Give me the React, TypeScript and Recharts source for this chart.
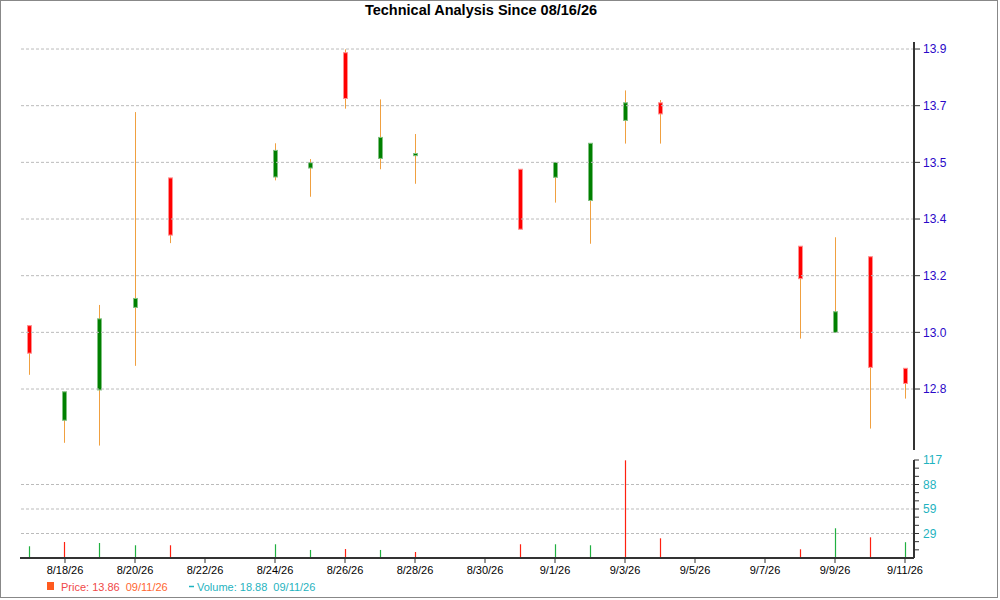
import { ComposedChart, Bar, XAxis, YAxis, ReferenceLine } from 'recharts';

// trading days, counted from 8/17/26
const tradeDays = [0, 1, 2, 3, 4, 7, 8, 9, 10, 11, 14, 15, 16, 17, 18, 22, 23, 24, 25];
const opens  = [13.005, 12.699, 12.797, 13.064, 13.483, 13.486, 13.515, 13.888, 13.546, 13.555, 13.511, 13.485, 13.410, 13.669, 13.726, 13.262, 12.983, 13.228, 12.867];
const highs  = [13.005, 12.791, 13.072, 13.696, 13.483, 13.595, 13.544, 13.899, 13.737, 13.625, 13.511, 13.533, 13.595, 13.766, 13.735, 13.262, 13.291, 13.228, 12.867];
const lows   = [12.846, 12.626, 12.617, 12.875, 13.272, 13.475, 13.422, 13.707, 13.511, 13.464, 13.317, 13.403, 13.270, 13.594, 13.594, 12.963, 12.983, 12.672, 12.769];
const closes = [12.916, 12.791, 13.027, 13.093, 13.298, 13.572, 13.532, 13.740, 13.614, 13.562, 13.317, 13.533, 13.595, 13.726, 13.690, 13.157, 13.050, 12.870, 12.818];
const volumes = [14.0, 19.1, 17.9, 15.2, 15.2, 16.4, 9.6, 10.7, 9.6, 7.2, 16.4, 16.4, 15.2, 116.6, 23.5, 10.4, 35.5, 24.7, 18.88];
const volumeUp = [true, false, true, true, false, true, true, false, true, false, false, true, true, false, false, false, true, false, true];

const dateTickDays = [1, 3, 5, 7, 9, 11, 13, 15, 17, 19, 21, 23, 25];
const dateTickLabels = ['8/18/26', '8/20/26', '8/22/26', '8/24/26', '8/26/26', '8/28/26', '8/30/26', '9/1/26', '9/3/26', '9/5/26', '9/7/26', '9/9/26', '9/11/26'];

const priceTicks = [12.8, 12.98333, 13.16667, 13.35, 13.53333, 13.71667, 13.9];
const priceTickLabels = ['12.8', '13.0', '13.2', '13.4', '13.5', '13.7', '13.9'];

const volTicks = [9.75, 19.5, 29.25, 39, 48.75, 58.5, 68.25, 78, 87.75, 97.5, 107.25, 117];
const volTickLabels = ['', '', '29', '', '', '59', '', '', '88', '', '', '117'];
const volGrid = [29.25, 58.5, 87.75];

const data = tradeDays.map((day, i) => ({
  day, open: opens[i], high: highs[i], low: lows[i], close: closes[i],
  vol: volumes[i], volUp: volumeUp[i],
}));

const FONT = '"Liberation Sans", Arial, sans-serif';
const X_DOMAIN: [number, number] = [-0.2857, 25.257];
const gridStyle = { stroke: '#bbb', strokeDasharray: '3 2', strokeWidth: 1 };

const Candle = (p: any) => {
  const { x, y, width, height, payload } = p;
  if (!payload || height == null) return null;
  const { open, close, high, low } = payload;
  const h = Math.abs(height);
  const top0 = Math.min(y, y + height);
  const k = h / (high - low);
  const yAt = (v: number) => top0 + (high - v) * k;
  const cx = Math.floor(x + width / 2) + 0.5;
  const up = close >= open;
  const bTop = yAt(Math.max(open, close));
  const bBot = yAt(Math.min(open, close));
  return (
    <g>
      <line x1={cx} x2={cx} y1={top0} y2={top0 + h} stroke="#f0a040" strokeWidth={1} />
      <rect x={cx - 2} y={bTop} width={4} height={Math.max(bBot - bTop, 1.5)}
        fill={up ? '#008000' : '#ff0000'} stroke={up ? '#80c080' : '#ff9090'} strokeWidth={1} />
    </g>
  );
};

const VolLine = (p: any) => {
  const { x, y, width, height, payload } = p;
  if (!payload) return null;
  const cx = Math.floor(x + width / 2) + 0.5;
  return <line x1={cx} x2={cx} y1={y} y2={y + height} stroke={payload.volUp ? '#20b040' : '#ff2010'} strokeWidth={1.2} />;
};

export default function App() {
  return (
    <div style={{ position: 'absolute', left: 0, top: 0, width: 1000, height: 600, background: '#fff', fontFamily: FONT }}>
      <div style={{ position: 'absolute', left: 0, top: 0, width: 996, height: 596, border: '1px solid #888' }} />

      <div style={{ position: 'absolute', left: 0, top: 0 }}>
        <ComposedChart width={1000} height={450} data={data} margin={{ top: 42, right: 0, left: 20, bottom: 0 }}>
          <XAxis type="number" dataKey="day" domain={X_DOMAIN} allowDataOverflow hide />
          <YAxis orientation="right" domain={[12.6027, 13.9227]} allowDataOverflow ticks={priceTicks} interval={0}
            tickFormatter={(_v: number, i: number) => priceTickLabels[i]} width={86}
            axisLine={{ stroke: '#333', strokeWidth: 2 }} tickLine={{ stroke: '#333' }} tickSize={6} tickMargin={3}
            tick={{ fill: '#2a08c8', fontSize: 12, fontFamily: FONT }} />
          {priceTicks.map(v => <ReferenceLine key={v} y={v} {...gridStyle} />)}
          <Bar dataKey={(d: any) => [d.low, d.high]} barSize={5} shape={Candle} isAnimationActive={false} />
        </ComposedChart>
      </div>

      <div style={{ position: 'absolute', left: 0, top: 450 }}>
        <ComposedChart width={1000} height={150} data={data} margin={{ top: 10, right: 0, left: 20, bottom: 0 }}>
          <XAxis type="number" dataKey="day" domain={X_DOMAIN} allowDataOverflow ticks={dateTickDays} interval={0}
            tickFormatter={(_v: number, i: number) => dateTickLabels[i]} height={42}
            axisLine={{ stroke: '#333', strokeWidth: 2 }} tickLine={{ stroke: '#333' }} tickSize={5} tickMargin={3}
            tick={{ fill: '#000', fontSize: 11, fontFamily: FONT }} />
          <YAxis orientation="right" domain={[0, 117]} allowDataOverflow ticks={volTicks} interval={0}
            tickFormatter={(_v: number, i: number) => volTickLabels[i]} width={86}
            axisLine={{ stroke: '#333', strokeWidth: 2 }} tickLine={{ stroke: '#333' }} tickSize={5} tickMargin={4}
            tick={{ fill: '#1fb3c0', fontSize: 12, fontFamily: FONT }} />
          {volGrid.map(v => <ReferenceLine key={v} y={v} {...gridStyle} />)}
          <Bar dataKey="vol" barSize={3} shape={VolLine} isAnimationActive={false} />
        </ComposedChart>
      </div>

      <svg width={1000} height={600} style={{ position: 'absolute', left: 0, top: 0, pointerEvents: 'none' }}>
        <text x={481} y={15} textAnchor="middle" fontSize={14.5} fontWeight="bold" fill="#000" fontFamily={FONT}>
          Technical Analysis Since 08/16/26
        </text>
        <rect x={47} y={582} width={7} height={8} fill="#ff5a1f" />
        <text x={61} y={591} fontSize={11} fontFamily={FONT}>
          <tspan fill="#f04848">Price: 13.86</tspan>
          <tspan fill="#ff6630" dx={6}>09/11/26</tspan>
        </text>
        <line x1={189} x2={194} y1={586.5} y2={586.5} stroke="#1fb3c0" strokeWidth={1.5} />
        <text x={197} y={591} fontSize={11} fontFamily={FONT} fill="#1fb3c0">
          <tspan>Volume: 18.88</tspan>
          <tspan dx={6}>09/11/26</tspan>
        </text>
      </svg>
    </div>
  );
}
